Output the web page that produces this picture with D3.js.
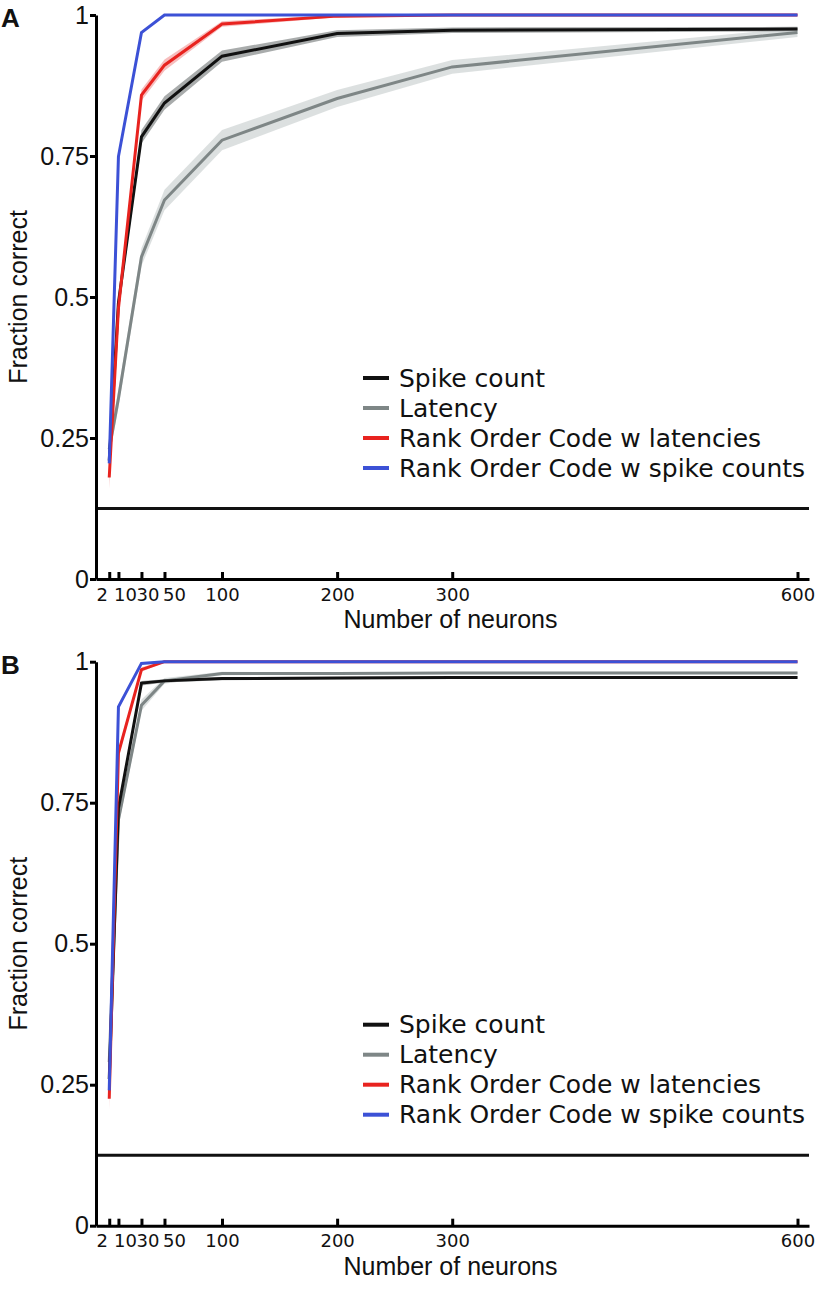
<!DOCTYPE html>
<html>
<head>
<meta charset="utf-8">
<script src="https://cdn.jsdelivr.net/npm/d3@7"></script>
<style>
  html, body { margin: 0; padding: 0; background: #fff; }
  svg { display: block; }
</style>
</head>
<body>
<svg id="chart" width="817" height="1289"></svg>
<script>
// ---------------- data ----------------
const neurons = [2, 10, 30, 50, 100, 200, 300, 600];
const xTickLabels = ["2", "10", "30", "50", "100", "200", "300", "600"];
const yTickValues = [0, 0.25, 0.5, 0.75, 1];
const yTickLabels = ["0", "0.25", "0.5", "0.75", "1"];
const seriesNames = ["Spike count", "Latency", "Rank Order Code w latencies", "Rank Order Code w spike counts"];
const chanceLevel = 0.125;

// Panel A
const spikeA  = [0.21, 0.49, 0.784, 0.844, 0.927, 0.967, 0.973, 0.975];
const latA    = [0.23, 0.32, 0.571, 0.672, 0.778, 0.852, 0.908, 0.969];
const rocLatA = [0.18, 0.48, 0.858, 0.911, 0.984, 0.998, 1.0, 1.0];
const rocSpkA = [0.205, 0.749, 0.969, 1.0, 1.0, 1.0, 1.0, 1.0];
const spikeErrA  = [0.010, 0.012, 0.012, 0.012, 0.010, 0.006, 0.005, 0.004];
const latErrA    = [0.015, 0.016, 0.016, 0.018, 0.018, 0.015, 0.012, 0.008];
const rocLatErrA = [0.020, 0.010, 0.010, 0.010, 0.005, 0.002, 0.001, 0.001];
const rocSpkErrA = [0.008, 0.004, 0.002, 0.0, 0.0, 0.0, 0.0, 0.0];

// Panel B
const spikeB  = [0.26, 0.74, 0.962, 0.966, 0.970, 0.971, 0.972, 0.972];
const latB    = [0.29, 0.72, 0.923, 0.966, 0.979, 0.979, 0.980, 0.980];
const rocLatB = [0.225, 0.838, 0.986, 1.0, 1.0, 1.0, 1.0, 1.0];
const rocSpkB = [0.24, 0.920, 0.997, 1.0, 1.0, 1.0, 1.0, 1.0];
const spikeErrB  = [0.010, 0.010, 0.004, 0.003, 0.003, 0.002, 0.002, 0.002];
const latErrB    = [0.012, 0.012, 0.010, 0.005, 0.003, 0.002, 0.002, 0.002];
const rocLatErrB = [0.020, 0.008, 0.004, 0.001, 0.0, 0.0, 0.0, 0.0];
const rocSpkErrB = [0.010, 0.004, 0.001, 0.0, 0.0, 0.0, 0.0, 0.0];

// ---------------- styles ----------------
const lineColors = ["#111111", "#7e8686", "#e8231f", "#3c51d6"];
const bandColors = ["#9a9d9d", "#d6dbdb", "#f4b3b3", "#b9c2f0"];
const xLabelDx = [-7.5, 6.5, 6, 9.5, 0, 0, 0, 0];
const drawOrder = [1, 0, 2, 3];

const svg = d3.select("#chart");

const x = d3.scaleLinear().domain([-9.5, 610]).range([96, 809]);

function panel(top, letter, values, errs) {
  const y = d3.scaleLinear().domain([0, 1]).range([top + 564, top]);
  const g = svg.append("g");

  // bands
  drawOrder.forEach(si => {
    const area = d3.area()
      .x((d, i) => x(neurons[i]))
      .y0((d, i) => y(d - errs[si][i]))
      .y1((d, i) => y(d + errs[si][i]));
    g.append("path").datum(values[si])
      .attr("d", area)
      .attr("fill", bandColors[si])
      .attr("opacity", 0.85);
  });

  // chance line
  g.append("line")
    .attr("x1", x.range()[0]).attr("x2", x.range()[1])
    .attr("y1", y(chanceLevel)).attr("y2", y(chanceLevel))
    .attr("stroke", "#111").attr("stroke-width", 3);

  // lines
  drawOrder.forEach(si => {
    const line = d3.line().x((d, i) => x(neurons[i])).y(d => y(d));
    g.append("path").datum(values[si])
      .attr("d", line)
      .attr("fill", "none")
      .attr("stroke", lineColors[si])
      .attr("stroke-width", 3)
      .attr("stroke-linejoin", "miter");
  });

  // y axis
  const yAxis = d3.axisLeft(y).tickValues(yTickValues)
    .tickFormat((d, i) => yTickLabels[i]).tickSize(6).tickSizeOuter(0);
  const ya = g.append("g").attr("transform", `translate(${x.range()[0]},0)`).call(yAxis);
  ya.select(".domain").attr("stroke", "#000").attr("stroke-width", 3);
  ya.selectAll(".tick line").attr("stroke", "#000").attr("stroke-width", 3);
  ya.selectAll(".tick text")
    .attr("font-family", "'Liberation Sans', Arial, sans-serif")
    .attr("font-size", 25).attr("fill", "#111").attr("x", -7);

  // x axis
  const xAxis = d3.axisBottom(x).tickValues(neurons)
    .tickFormat((d, i) => xTickLabels[i]).tickSize(0).tickSizeOuter(0);
  const xa = g.append("g").attr("transform", `translate(0,${y(0)})`).call(xAxis);
  xa.select(".domain").attr("stroke", "#000").attr("stroke-width", 3);
  xa.selectAll(".tick line").attr("y2", -7).attr("stroke", "#000").attr("stroke-width", 3);
  xa.selectAll(".tick text")
    .attr("font-family", "'DejaVu Sans', sans-serif")
    .attr("font-size", 18).attr("fill", "#111")
    .attr("y", 9)
    .attr("dx", (d, i) => xLabelDx[i]);

  // axis titles
  g.append("text")
    .attr("x", (x.range()[0] + x.range()[1]) / 2 - 2)
    .attr("y", y(0) + 49)
    .attr("text-anchor", "middle")
    .attr("font-family", "'Liberation Sans', Arial, sans-serif")
    .attr("font-size", 25).attr("fill", "#111")
    .text("Number of neurons");
  g.append("text")
    .attr("transform", `translate(27,${(y(0) + y(1)) / 2}) rotate(-90)`)
    .attr("text-anchor", "middle")
    .attr("font-family", "'Liberation Sans', Arial, sans-serif")
    .attr("font-size", 25).attr("fill", "#111")
    .text("Fraction correct");

  // panel letter
  g.append("text")
    .attr("x", 1).attr("y", y(1) + 12)
    .attr("font-family", "'Liberation Sans', Arial, sans-serif")
    .attr("font-weight", "bold")
    .attr("font-size", 26).attr("fill", "#111")
    .text(letter);

  // legend
  const lg = g.append("g").attr("transform", `translate(363,${top + 363})`);
  seriesNames.forEach((name, i) => {
    const row = lg.append("g").attr("transform", `translate(0,${i * 30})`);
    row.append("line").attr("x1", 0).attr("x2", 26).attr("y1", 0).attr("y2", 0)
      .attr("stroke", lineColors[i]).attr("stroke-width", 4);
    row.append("text").attr("x", 36).attr("y", 0).attr("dy", "0.35em")
      .attr("font-family", "'DejaVu Sans', sans-serif")
      .attr("font-size", 25).attr("fill", "#111")
      .text(name);
  });
}

panel(15, "A", [spikeA, latA, rocLatA, rocSpkA], [spikeErrA, latErrA, rocLatErrA, rocSpkErrA]);
panel(661.7, "B", [spikeB, latB, rocLatB, rocSpkB], [spikeErrB, latErrB, rocLatErrB, rocSpkErrB]);
</script>
</body>
</html>
